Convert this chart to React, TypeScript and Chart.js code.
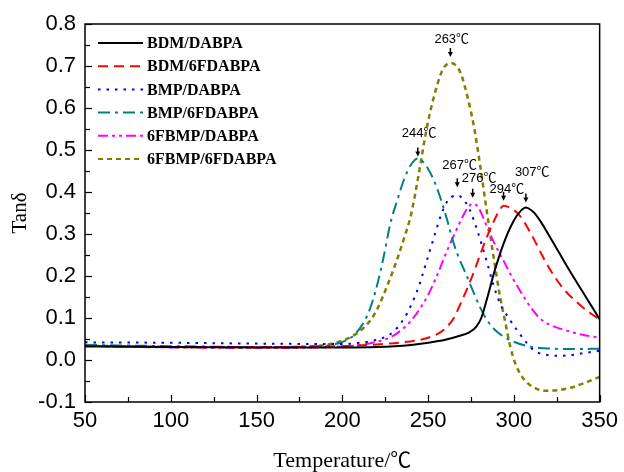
import React, { useEffect, useRef } from 'react';
import { Chart, registerables } from 'chart.js';

Chart.register(...registerables);

// ---------- data ----------
const seriesLabels = [
  'BDM/DABPA',
  'BDM/6FDABPA',
  'BMP/DABPA',
  'BMP/6FDABPA',
  '6FBMP/DABPA',
  '6FBMP/6FDABPA',
];

const bdmDabpa: [number, number][] = [
  [50, 0.033], [100, 0.031], [150, 0.030], [200, 0.030], [220, 0.031], [240, 0.036],
  [250, 0.041], [260, 0.048], [268, 0.057], [274, 0.066], [278, 0.079], [281, 0.10],
  [284.5, 0.148], [288.5, 0.208], [294, 0.277], [300, 0.332], [304, 0.355], [307, 0.363],
  [310, 0.357], [313, 0.345], [316, 0.327], [320, 0.30], [325, 0.265], [330, 0.23],
  [335, 0.196], [340, 0.163], [345, 0.13], [350, 0.097],
];

const bdm6fdabpa: [number, number][] = [
  [50, 0.033], [100, 0.031], [150, 0.031], [200, 0.033], [220, 0.037], [235, 0.042],
  [244, 0.047], [250, 0.053], [255, 0.061], [260, 0.075], [265, 0.10], [269, 0.135],
  [273, 0.172], [277, 0.213], [280.5, 0.253], [284.5, 0.295], [288.5, 0.332], [291.5, 0.356],
  [294, 0.367], [298, 0.362], [302, 0.35], [305, 0.335], [308, 0.315], [311.5, 0.289],
  [317, 0.245], [323, 0.203], [329, 0.169], [336.6, 0.138], [344, 0.113], [350, 0.097],
];

const bmpDabpa: [number, number][] = [
  [50, 0.042], [100, 0.041], [150, 0.039], [200, 0.038], [210, 0.041], [218, 0.046],
  [225, 0.055], [230, 0.068], [234, 0.087], [238, 0.113], [242, 0.148], [245, 0.18],
  [248, 0.22], [251, 0.26], [254, 0.30], [258, 0.35], [261.5, 0.38], [264.5, 0.39],
  [267, 0.392], [270, 0.385], [274, 0.36], [278.7, 0.308], [284.5, 0.23], [288, 0.18],
  [292, 0.134], [297, 0.10], [302, 0.07], [307, 0.043], [312, 0.022], [318, 0.013],
  [325, 0.010], [332, 0.011], [340, 0.016], [350, 0.022],
];

const bmp6fdabpa: [number, number][] = [
  [50, 0.036], [100, 0.033], [150, 0.031], [180, 0.032], [195, 0.037], [202, 0.046],
  [207, 0.06], [211, 0.08], [215, 0.11], [218, 0.145], [221, 0.19], [224, 0.244],
  [228, 0.325], [232, 0.38], [236, 0.43], [240, 0.465], [244, 0.48], [248, 0.467],
  [252, 0.44], [256, 0.40], [261, 0.335], [264, 0.29], [267, 0.253], [272, 0.205],
  [276.8, 0.158], [280, 0.128], [284.5, 0.094], [290, 0.068], [298, 0.047], [308, 0.033],
  [318, 0.028], [335, 0.026], [350, 0.027],
];

const fbmpDabpa: [number, number][] = [
  [50, 0.033], [100, 0.030], [150, 0.029], [200, 0.032], [212, 0.037], [222.6, 0.046],
  [229, 0.056], [234, 0.07], [240, 0.093], [245.7, 0.125], [250, 0.155], [255.6, 0.205],
  [260, 0.25], [265.4, 0.30], [270, 0.34], [273, 0.362], [276, 0.372], [279, 0.365],
  [281.5, 0.345], [284.5, 0.315], [289, 0.275], [294, 0.236], [299, 0.197], [303.6, 0.165],
  [309, 0.13], [315, 0.10], [322, 0.082], [330.8, 0.07], [340, 0.06], [350, 0.053],
];

const fbmp6fdabpa: [number, number][] = [
  [50, 0.034], [100, 0.031], [150, 0.030], [180, 0.032], [195, 0.04], [205, 0.055],
  [212, 0.075], [217, 0.098], [220.8, 0.125], [226, 0.175], [232.4, 0.245], [236, 0.29],
  [240, 0.345], [244, 0.43], [249.8, 0.564], [255.6, 0.659], [259, 0.695], [263, 0.707],
  [266, 0.702], [269, 0.683], [273, 0.626], [276.8, 0.554], [280.5, 0.459], [284, 0.36],
  [288, 0.25], [292, 0.15], [295, 0.09], [298, 0.03], [301, -0.01], [304, -0.035],
  [308, -0.055], [313, -0.068], [318, -0.073], [325, -0.072], [333, -0.066], [341, -0.055],
  [350, -0.04],
];

const allSeries = [bdmDabpa, bdm6fdabpa, bmpDabpa, bmp6fdabpa, fbmpDabpa, fbmp6fdabpa];

const peakTemps = [263, 244, 267, 276, 294, 307];
const peakValues = [0.707, 0.48, 0.392, 0.372, 0.367, 0.363];

const xMin = 50;
const xMax = 350;
const xStep = 50;
const yMin = -0.1;
const yMax = 0.8;
const yStep = 0.1;

const xTitleMain = 'Temperature/';
const degreeUnit = '℃';
const yTitle = 'Tanδ';

// ---------- styles ----------
const seriesColors = ['#000000', '#ff0000', '#0000ff', '#008080', '#ff00ff', '#808000'];
const seriesDashes: number[][] = [
  [],
  [10, 6],
  [2.5, 6],
  [12, 5, 3, 5],
  [10, 4, 3, 4, 3, 4],
  [5, 4],
];
// per annotation: gap from peak to arrow tip, text baseline above tip, text left offset
const annStyle = [
  { gap: 6, rise: 14, dx: 16 },
  { gap: 2, rise: 19, dx: 16 },
  { gap: 8, rise: 18, dx: 15 },
  { gap: 6, rise: 16, dx: 11 },
  { gap: 5, rise: 8, dx: 14 },
  { gap: 5, rise: 27, dx: 11 },
];

const sansFont = '"Liberation Sans", Arial, sans-serif';
const serifFont = '"Liberation Serif", "Times New Roman", serif';
const cjkFont = '"Noto Sans CJK SC", sans-serif';

const decorPlugin = {
  id: 'decor',
  afterDraw(chart: any) {
    const { ctx, chartArea: a, scales } = chart;
    const xs = scales.x;
    const ys = scales.y;
    ctx.save();
    ctx.strokeStyle = '#000';
    ctx.lineWidth = 1.5;
    ctx.setLineDash([]);
    ctx.strokeRect(a.left, a.top, a.right - a.left, a.bottom - a.top);

    ctx.lineWidth = 1.2;
    // x ticks (inward)
    for (let i = 0; i <= (xMax - xMin) / 25; i++) {
      const v = xMin + i * 25;
      const px = Math.round(xs.getPixelForValue(v)) + 0.5;
      const len = i % 2 === 0 ? 7 : 5;
      ctx.beginPath();
      ctx.moveTo(px, a.bottom);
      ctx.lineTo(px, a.bottom - len);
      ctx.stroke();
    }
    // y ticks (inward)
    const nY = Math.round((yMax - yMin) / 0.05);
    for (let i = 0; i <= nY; i++) {
      const v = yMin + i * 0.05;
      const py = Math.round(ys.getPixelForValue(v)) + 0.5;
      const len = i % 2 === 0 ? 7 : 5;
      ctx.beginPath();
      ctx.moveTo(a.left, py);
      ctx.lineTo(a.left + len, py);
      ctx.stroke();
    }

    // x title (main text in serif, unit sign in CJK font)
    ctx.fillStyle = '#000';
    ctx.textBaseline = 'alphabetic';
    ctx.textAlign = 'left';
    ctx.font = `22px ${serifFont}`;
    const w1 = ctx.measureText(xTitleMain).width;
    ctx.font = `21px ${cjkFont}`;
    const w2 = ctx.measureText(degreeUnit).width;
    const tx = (a.left + a.right) / 2 - (w1 + w2) / 2;
    ctx.font = `22px ${serifFont}`;
    ctx.fillText(xTitleMain, tx, 467);
    ctx.font = `21px ${cjkFont}`;
    ctx.fillText(degreeUnit, tx + w1, 467);

    // legend
    const ds = chart.data.datasets;
    const lx0 = a.left + 13;
    const lx1 = a.left + 58;
    const ty0 = a.top + 19;
    const rowH = 23.2;
    ctx.font = `bold 16px ${serifFont}`;
    ctx.textBaseline = 'middle';
    ctx.textAlign = 'left';
    ds.forEach((d: any, i: number) => {
      const yy = ty0 + i * rowH;
      ctx.strokeStyle = d.borderColor;
      ctx.lineWidth = 2;
      ctx.setLineDash(d.borderDash || []);
      ctx.beginPath();
      ctx.moveTo(lx0, yy);
      ctx.lineTo(lx1, yy);
      ctx.stroke();
      ctx.setLineDash([]);
      ctx.fillStyle = '#000';
      ctx.fillText(d.label, lx1 + 4, yy + 1);
    });

    // peak annotations
    ctx.textBaseline = 'alphabetic';
    ctx.fillStyle = '#000';
    ctx.strokeStyle = '#000';
    peakTemps.forEach((t, i) => {
      const st = annStyle[i];
      const px = xs.getPixelForValue(t);
      const py = ys.getPixelForValue(peakValues[i]);
      const tip = py - st.gap;
      ctx.lineWidth = 1.5;
      ctx.beginPath();
      ctx.moveTo(px, tip - 9);
      ctx.lineTo(px, tip - 4);
      ctx.stroke();
      ctx.beginPath();
      ctx.moveTo(px - 2.5, tip - 5);
      ctx.lineTo(px + 2.5, tip - 5);
      ctx.lineTo(px, tip);
      ctx.closePath();
      ctx.fill();
      ctx.font = `13px ${sansFont}`;
      const num = String(t);
      const nw = ctx.measureText(num).width;
      ctx.fillText(num, px - st.dx, tip - st.rise);
      ctx.font = `13px ${cjkFont}`;
      ctx.fillText(degreeUnit, px - st.dx + nw, tip - st.rise);
    });
    ctx.restore();
  },
};

export default function App() {
  const ref = useRef<HTMLCanvasElement>(null);
  useEffect(() => {
    document.body.style.margin = '0';
    const canvas = ref.current!;
    const chart = new Chart(canvas, {
      type: 'line',
      data: {
        datasets: allSeries.map((s, i) => ({
          label: seriesLabels[i],
          data: s.map(([x, y]) => ({ x, y })),
          borderColor: seriesColors[i],
          backgroundColor: seriesColors[i],
          borderDash: seriesDashes[i],
          borderWidth: i === 5 ? 2.5 : 2,
          pointRadius: 0,
          fill: false,
          cubicInterpolationMode: 'monotone' as const,
        })),
      },
      options: {
        responsive: false,
        animation: false,
        devicePixelRatio: 1,
        layout: { padding: { top: 24, right: 19, left: 0, bottom: 0 } },
        plugins: {
          legend: { display: false },
          tooltip: { enabled: false },
        },
        scales: {
          x: {
            type: 'linear',
            min: xMin,
            max: xMax,
            grid: { display: false, drawTicks: false },
            border: { display: false },
            ticks: {
              stepSize: xStep,
              color: '#000',
              font: { family: sansFont, size: 22 },
              padding: 6,
              maxRotation: 0,
              autoSkip: false,
            },
            title: { display: false },
            afterFit: (scale: any) => {
              scale.height = 70;
            },
          },
          y: {
            type: 'linear',
            min: yMin,
            max: yMax,
            grid: { display: false, drawTicks: false },
            border: { display: false },
            ticks: {
              stepSize: yStep,
              color: '#000',
              font: { family: sansFont, size: 22 },
              padding: 9,
              callback: (v: any) => {
                const n = Number(v);
                return Math.abs(n) < 1e-9 ? '0.0' : n.toFixed(1);
              },
            },
            title: {
              display: true,
              text: yTitle,
              color: '#000',
              font: { family: serifFont, size: 21 },
              padding: { top: 8, bottom: 0 },
            },
            afterFit: (scale: any) => {
              scale.width = 85;
            },
          },
        },
      },
      plugins: [decorPlugin],
    });
    return () => chart.destroy();
  }, []);
  return (
    <div style={{ width: 624, height: 472 }}>
      <canvas ref={ref} width={624} height={472} style={{ display: 'block' }} />
    </div>
  );
}
